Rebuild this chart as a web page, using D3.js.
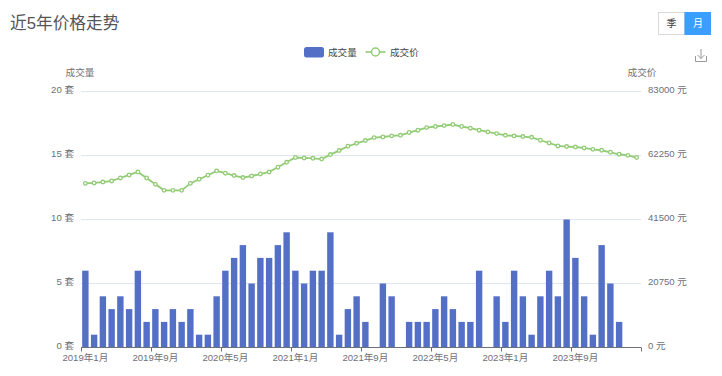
<!DOCTYPE html>
<html>
<head>
<meta charset="utf-8">
<script src="https://cdn.jsdelivr.net/npm/d3@7"></script>
<style>
  html, body { margin: 0; padding: 0; background: #fff; }
  svg { display: block; }
  text { font-family: "Liberation Sans", "Noto Sans CJK SC", sans-serif; }
  .domain { display: none; }
</style>
</head>
<body>
<div id="chart"></div>
<script>
// one entry per month, 2019年1月 to 2024年4月
var volumes = [6,1,4,3,4,3,6,2,3,2,3,2,3,1,1,4,6,7,8,5,7,7,8,9,6,5,6,6,9,1,3,4,
               2,0,5,4,0,2,2,2,3,4,3,2,2,6,0,4,2,6,4,1,4,6,4,10,7,4,1,8,5,2,0,0];
var prices = [53200,53350,53650,54000,54950,55950,56900,54950,52900,50950,50950,50950,
              53200,54550,55850,57250,56500,55750,55100,55600,56250,56900,58450,60050,
              61600,61450,61350,61100,62550,63850,65250,66200,67100,68050,68250,68600,
              68800,69700,70450,71300,71650,71950,72300,71650,71100,70450,69900,69350,
              68800,68600,68400,68150,67200,66300,65350,65150,65000,64700,64250,63950,
              63300,62650,62300,61600];
var xLabels = ["2019年1月","2019年9月","2020年5月","2021年1月","2021年9月","2022年5月","2023年1月","2023年9月"];
var volumeTicks = [0,5,10,15,20];
var priceTicks = [0,20750,41500,62250,83000];

function init() {
	var w = 722, h = 376;
	var plotLeft = 81, plotRight = 641, plotTop = 91.5, plotBottom = 347.5;
	var textColor = "#6e7079";

	var svg = d3.select("#chart").append("svg").attr("width", w).attr("height", h);

	var months = d3.range(volumes.length);
	var monthName = function(i) {
		return (2019 + Math.floor(i / 12)) + "年" + (i % 12 + 1) + "月";
	};

	var x = d3.scaleBand().domain(months).range([plotLeft, plotRight]);
	var xEdge = d3.scaleLinear().domain([0, months.length]).range([plotLeft, plotRight]);
	var yVol = d3.scaleLinear().domain([0, 20]).range([plotBottom, plotTop]);
	var yPrice = d3.scaleLinear().domain([0, 83000]).range([plotBottom, plotTop]);

	// title
	svg.append("text").attr("x", 10).attr("y", 29)
		.attr("font-size", "16.7px").attr("fill", "#555").text("近5年价格走势");

	// gridlines
	svg.append("g").selectAll("line")
		.data(volumeTicks.slice(1))
		.enter().append("line")
		.attr("x1", plotLeft).attr("x2", plotRight)
		.attr("y1", function(d) { return yVol(d); })
		.attr("y2", function(d) { return yVol(d); })
		.attr("stroke", "#e0e6f1");

	// bars
	svg.append("g").selectAll("rect")
		.data(volumes)
		.enter().append("rect")
		.attr("x", function(d, i) { return x(i) + (x.bandwidth() - 6.4) / 2; })
		.attr("y", function(d) { return yVol(d); })
		.attr("width", 6.4)
		.attr("height", function(d) { return plotBottom - yVol(d); })
		.attr("fill", "#5470c6");

	// price line
	var line = d3.line()
		.x(function(d, i) { return x(i) + x.bandwidth() / 2; })
		.y(function(d) { return yPrice(d); });

	svg.append("path").datum(prices)
		.attr("d", line)
		.attr("fill", "none")
		.attr("stroke", "#91cc75")
		.attr("stroke-width", 1.8);

	svg.append("g").selectAll("circle")
		.data(prices)
		.enter().append("circle")
		.attr("cx", function(d, i) { return x(i) + x.bandwidth() / 2; })
		.attr("cy", function(d) { return yPrice(d); })
		.attr("r", 1.8)
		.attr("fill", "#fff")
		.attr("stroke", "#91cc75")
		.attr("stroke-width", 1.3);

	// x axis: ticks sit on the band edges, labels on the band centres
	var xLabelMonths = months.filter(function(i) { return xLabels.indexOf(monthName(i)) >= 0; });

	var xLabelAxis = svg.append("g")
		.attr("transform", "translate(0," + plotBottom + ")")
		.call(d3.axisBottom(x).tickValues(xLabelMonths).tickSize(0).tickPadding(7).tickFormat(monthName));
	xLabelAxis.selectAll("text").attr("font-size", "9.6px").attr("fill", textColor);

	var xTickAxis = svg.append("g")
		.attr("transform", "translate(0," + plotBottom + ")")
		.call(d3.axisBottom(xEdge)
			.tickValues(xLabelMonths.concat([months.length]))
			.tickSize(4)
			.tickFormat(""));
	xTickAxis.selectAll("line").attr("stroke", textColor);

	svg.append("line")
		.attr("x1", plotLeft).attr("x2", plotRight)
		.attr("y1", plotBottom).attr("y2", plotBottom)
		.attr("stroke", textColor);

	// y axes, labels sit slightly above their gridline
	var leftAxis = svg.append("g")
		.attr("transform", "translate(" + (plotLeft - 7) + ",-1.8)")
		.call(d3.axisLeft(yVol).tickValues(volumeTicks).tickSize(0).tickPadding(0)
			.tickFormat(function(d) { return d + " 套"; }));
	leftAxis.selectAll("text").attr("font-size", "9.6px").attr("fill", textColor);

	var rightAxis = svg.append("g")
		.attr("transform", "translate(" + (plotRight + 7) + ",-1.8)")
		.call(d3.axisRight(yPrice).tickValues(priceTicks).tickSize(0).tickPadding(0)
			.tickFormat(function(d) { return d + " 元"; }));
	rightAxis.selectAll("text").attr("font-size", "9.6px").attr("fill", textColor);

	// axis names
	svg.append("text").attr("x", 80).attr("y", 76).attr("text-anchor", "middle")
		.attr("font-size", "9.6px").attr("fill", textColor).text("成交量");
	svg.append("text").attr("x", 642).attr("y", 76).attr("text-anchor", "middle")
		.attr("font-size", "9.6px").attr("fill", textColor).text("成交价");

	// legend
	svg.append("rect").attr("x", 304).attr("y", 47).attr("width", 20).attr("height", 10.5)
		.attr("rx", 2.5).attr("fill", "#5470c6");
	svg.append("text").attr("x", 328).attr("y", 55.5)
		.attr("font-size", "9.6px").attr("fill", "#444").text("成交量");
	svg.append("line").attr("x1", 365.5).attr("x2", 385.5).attr("y1", 52).attr("y2", 52)
		.attr("stroke", "#91cc75").attr("stroke-width", 1.6);
	svg.append("circle").attr("cx", 375.5).attr("cy", 52).attr("r", 4)
		.attr("fill", "#fff").attr("stroke", "#91cc75").attr("stroke-width", 1.5);
	svg.append("text").attr("x", 390).attr("y", 55.5)
		.attr("font-size", "9.6px").attr("fill", "#444").text("成交价");

	// season / month switch
	svg.append("rect").attr("x", 658.5).attr("y", 12.5).attr("width", 26).attr("height", 22)
		.attr("fill", "#fff").attr("stroke", "#d9d9d9");
	svg.append("rect").attr("x", 684.5).attr("y", 12).attr("width", 26.5).attr("height", 23)
		.attr("fill", "#3a9fff");
	svg.append("text").attr("x", 671.5).attr("y", 27).attr("text-anchor", "middle")
		.attr("font-size", "10px").attr("fill", "#444").text("季");
	svg.append("text").attr("x", 698).attr("y", 27).attr("text-anchor", "middle")
		.attr("font-size", "10px").attr("fill", "#fff").text("月");

	// download icon
	svg.append("path")
		.attr("d", "M695.5 56v5.5h11V56M701 49v9.5M697.5 55l3.5 3.5 3.5-3.5")
		.attr("fill", "none").attr("stroke", "#999").attr("stroke-width", 1);
}

window.onload = init;
</script>
</body>
</html>
